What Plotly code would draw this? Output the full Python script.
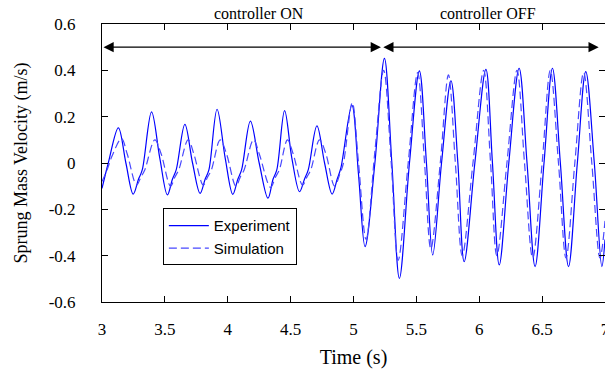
import plotly.graph_objects as go

# ---------------- data ----------------
exp_t = [3.00, 3.05, 3.13, 3.19, 3.248, 3.29, 3.32, 3.394, 3.46, 3.52, 3.56, 3.59,
         3.659, 3.72, 3.78, 3.82, 3.85, 3.915, 3.98, 4.04, 4.08, 4.11, 4.18, 4.25,
         4.32, 4.36, 4.39, 4.452, 4.51, 4.571, 4.61, 4.64, 4.709, 4.77, 4.83, 4.87,
         4.90, 4.987, 5.04, 5.092, 5.17, 5.246, 5.305, 5.365, 5.445, 5.524, 5.58,
         5.63, 5.70, 5.775, 5.83, 5.88, 5.965, 6.053, 6.105, 6.159, 6.235, 6.317,
         6.38, 6.444, 6.515, 6.582, 6.645, 6.71, 6.78, 6.847, 6.915, 6.975, 7.00]
exp_v = [-0.11, 0.00, 0.152, 0.00, -0.134, -0.07, -0.03, 0.221, 0.02, -0.138, -0.07, -0.03,
         0.167, 0.00, -0.131, -0.07, -0.03, 0.232, 0.02, -0.135, -0.07, -0.03, 0.181, 0.00,
         -0.152, -0.07, -0.03, 0.226, 0.02, -0.124, -0.07, -0.03, 0.160, 0.00, -0.134, -0.07,
         -0.02, 0.25, -0.05, -0.361, 0.00, 0.452, 0.00, -0.498, 0.00, 0.398, 0.00,
         -0.397, 0.00, 0.355, 0.00, -0.426, 0.00, 0.404, 0.00, -0.44, 0.00, 0.409,
         0.00, -0.447, 0.00, 0.409, 0.00, -0.447, 0.00, 0.394, 0.00, -0.447, -0.33]

sim_t = [3.00, 3.04, 3.08, 3.155, 3.20, 3.275, 3.31, 3.34, 3.42, 3.47, 3.545, 3.58,
         3.61, 3.685, 3.73, 3.805, 3.84, 3.87, 3.94, 3.99, 4.065, 4.10, 4.13, 4.205,
         4.25, 4.34, 4.38, 4.41, 4.475, 4.52, 4.595, 4.63, 4.66, 4.73, 4.78, 4.85,
         4.89, 4.92, 4.99, 5.04, 5.10, 5.17, 5.24, 5.30, 5.355, 5.435, 5.51, 5.565,
         5.615, 5.69, 5.755, 5.81, 5.865, 5.95, 6.035, 6.09, 6.14, 6.22, 6.30, 6.36,
         6.425, 6.50, 6.565, 6.63, 6.69, 6.76, 6.83, 6.895, 6.96, 7.00]
sim_v = [-0.08, -0.03, 0.03, 0.105, 0.04, -0.095, -0.06, -0.03, 0.10, 0.04, -0.10, -0.06,
         -0.03, 0.10, 0.04, -0.095, -0.06, -0.03, 0.10, 0.04, -0.10, -0.06, -0.03, 0.10,
         0.04, -0.105, -0.06, -0.03, 0.10, 0.04, -0.095, -0.06, -0.03, 0.10, 0.04, -0.10,
         -0.05, 0.00, 0.26, 0.00, -0.33, 0.05, 0.40, 0.00, -0.42, 0.00, 0.39, 0.00,
         -0.37, 0.00, 0.38, 0.00, -0.40, 0.00, 0.40, 0.00, -0.40, 0.00, 0.40, 0.00,
         -0.41, 0.00, 0.40, 0.00, -0.41, 0.00, 0.39, 0.00, -0.41, -0.25]

x_ticks = [3, 3.5, 4, 4.5, 5, 5.5, 6, 6.5, 7]
x_tick_labels = ["3", "3.5", "4", "4.5", "5", "5.5", "6", "6.5", "7"]
y_ticks = [-0.6, -0.4, -0.2, 0, 0.2, 0.4, 0.6]
y_tick_labels = ["-0.6", "-0.4", "-0.2", "0", "0.2", "0.4", "0.6"]

series_names = ["Experiment", "Simulation"]
phase_labels = ["controller ON", "controller OFF"]
phase_bounds = [3.0, 5.218, 6.95]   # arrow extents (s)
phase_label_x = [4.25, 6.07]
arrow_level = 0.5

# ---------------- figure ----------------
SERIF = "Liberation Serif, Times New Roman, serif"
SANS = "Liberation Sans, Arial, sans-serif"

fig = go.Figure()
fig.add_trace(go.Scatter(x=exp_t, y=exp_v, mode="lines", name=series_names[0],
                         line=dict(color="#0000ff", width=1.2, shape="spline", smoothing=1.0)))
fig.add_trace(go.Scatter(x=sim_t, y=sim_v, mode="lines", name=series_names[1],
                         line=dict(color="#4848ff", width=1.2, dash="8px,4px",
                                   shape="spline", smoothing=1.0)))

# double-headed arrows for phases
for i in range(2):
    fig.add_annotation(x=phase_bounds[i + 1], y=arrow_level,
                       ax=phase_bounds[i] + (0.007 if i == 1 else 0), ay=arrow_level,
                       xref="x", yref="y", axref="x", ayref="y",
                       showarrow=True, arrowhead=2, startarrowhead=2,
                       arrowside="end+start", arrowsize=1.7, startarrowsize=1.7,
                       arrowwidth=1.2, arrowcolor="black", standoff=0, startstandoff=0,
                       text="")
    fig.add_annotation(x=phase_label_x[i], y=1.0, xref="x", yref="paper",
                       yanchor="bottom", yshift=0, showarrow=False,
                       text=phase_labels[i],
                       font=dict(family=SERIF, size=16, color="black"))

axis_common = dict(showline=True, linecolor="black", linewidth=1, mirror="ticks",
                   ticks="inside", ticklen=6, tickcolor="black", tickwidth=1,
                   showgrid=False, zeroline=False, automargin=False)

fig.update_xaxes(range=[3, 7], tickvals=x_ticks, ticktext=x_tick_labels,
                 tickfont=dict(family=SERIF, size=17, color="black"),
                 ticklabelstandoff=12, ticklabeloverflow="allow",
                 title=dict(text="Time (s)", font=dict(family=SERIF, size=20, color="black"),
                            standoff=14),
                 **axis_common)
fig.update_yaxes(range=[-0.6, 0.6], tickvals=y_ticks, ticktext=y_tick_labels,
                 tickfont=dict(family=SERIF, size=17, color="black"),
                 ticklabelstandoff=22,
                 title=dict(text="Sprung Mass Velocity (m/s)",
                            font=dict(family=SERIF, size=18, color="black"), standoff=16),
                 **axis_common)

fig.update_layout(
    width=605, height=369,
    margin=dict(l=102, r=0, t=24, b=67),
    paper_bgcolor="white", plot_bgcolor="white",
    showlegend=True,
    legend=dict(x=0.121, y=0.337, xanchor="left", yanchor="top",
                bgcolor="white", bordercolor="black", borderwidth=1,
                font=dict(family=SANS, size=15, color="black"),
                itemwidth=40, tracegroupgap=2),
)

fig.write_html("out.html")
